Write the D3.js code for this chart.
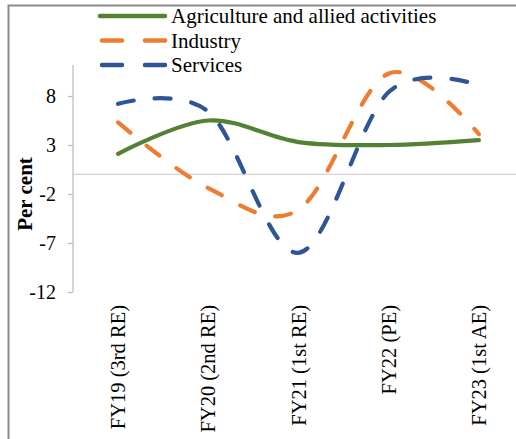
<!DOCTYPE html>
<html><head><meta charset="utf-8">
<script src="https://cdn.jsdelivr.net/npm/d3@7"></script>
<style>body{margin:0;background:#fff}svg{display:block}</style>
</head><body>
<svg id="c" width="516" height="439"></svg>
<script>
const categories = ["FY19 (3rd RE)", "FY20 (2nd RE)", "FY21 (1st RE)", "FY22 (PE)", "FY23 (1st AE)"];
const agriculture = [2.1, 5.5, 3.3, 3.0, 3.5];
const industry = [5.3, -1.4, -3.6, 10.3, 4.1];
const services = [7.2, 6.4, -8.0, 8.4, 9.1];
const yTicks = [-12, -7, -2, 3, 8];
const seriesNames = ["Agriculture and allied activities", "Industry", "Services"];

const series = [
  {name: seriesNames[0], values: agriculture, color: "#548235", dash: null},
  {name: seriesNames[1], values: industry, color: "#ED7D31", dash: "16 21"},
  {name: seriesNames[2], values: services, color: "#2F5597", dash: "16 21"}
];

const svg = d3.select("#c");
const font = "'Liberation Serif', 'Times New Roman', serif";

const x = d3.scaleBand().domain(categories).range([73, 524]);
const y = d3.scaleLinear().domain([-12, 13]).range([292, 47]);

// outer frame
svg.append("path").attr("d", "M8.5,439 V5.5 H516").attr("fill", "none")
  .attr("stroke", "#8a8a8a").attr("stroke-width", 2);

// zero line
svg.append("line").attr("x1", 73).attr("x2", 516).attr("y1", y(0)).attr("y2", y(0))
  .attr("stroke", "#d4d4d4").attr("stroke-width", 1.3);

// y axis
const yAxis = d3.axisLeft(y).tickValues(yTicks).tickSize(5).tickPadding(12).tickFormat(d => String(d));
const ga = svg.append("g").attr("transform", "translate(73,0)").call(yAxis);
ga.select(".domain").attr("d", `M0,65V${y(-12)}`).attr("stroke", "#bfbfbf").attr("stroke-width", 1.3);
ga.selectAll(".tick line").attr("stroke", "#bfbfbf").attr("stroke-width", 1.3);
ga.selectAll(".tick text").attr("font-family", font).attr("font-size", 20).attr("fill", "#000");

// y axis title
svg.append("text").attr("transform", `translate(32,194) rotate(-90)`)
  .attr("text-anchor", "middle").attr("font-family", font).attr("font-weight", "bold")
  .attr("font-size", 21).text("Per cent");

// x labels
svg.append("g").selectAll("text").data(categories).join("text")
  .attr("transform", d => `translate(${x(d) + x.bandwidth() / 2},305) rotate(-90)`)
  .attr("text-anchor", "end").attr("dy", "0.35em")
  .attr("font-family", font).attr("font-size", 20.5).text(d => d);

// lines
const line = d3.line()
  .x((d, i) => x(categories[i]) + x.bandwidth() / 2)
  .y(d => y(d))
  .curve(d3.curveCardinal.tension(0));

svg.append("g").selectAll("path").data(series).join("path")
  .attr("d", d => line(d.values))
  .attr("fill", "none").attr("stroke", d => d.color)
  .attr("stroke-width", 4.2).attr("stroke-linecap", "round")
  .attr("stroke-dasharray", d => d.dash);

// legend
const lg = svg.append("g");
lg.append("rect").attr("x", 74).attr("y", 7).attr("width", 380).attr("height", 57).attr("fill", "#fff");
const rows = lg.selectAll("g").data(series).join("g")
  .attr("transform", (d, i) => `translate(0,${16 + i * 24.5})`);
rows.append("line").attr("x1", d => d.dash ? 102 : 100).attr("x2", 165)
  .attr("stroke", d => d.color).attr("stroke-width", 4.5).attr("stroke-linecap", "round")
  .attr("stroke-dasharray", d => d.dash ? "20 23" : null);
rows.append("text").attr("x", 171).attr("dy", "0.35em")
  .attr("font-family", font).attr("font-size", 21).text(d => d.name);
</script>
</body></html>
